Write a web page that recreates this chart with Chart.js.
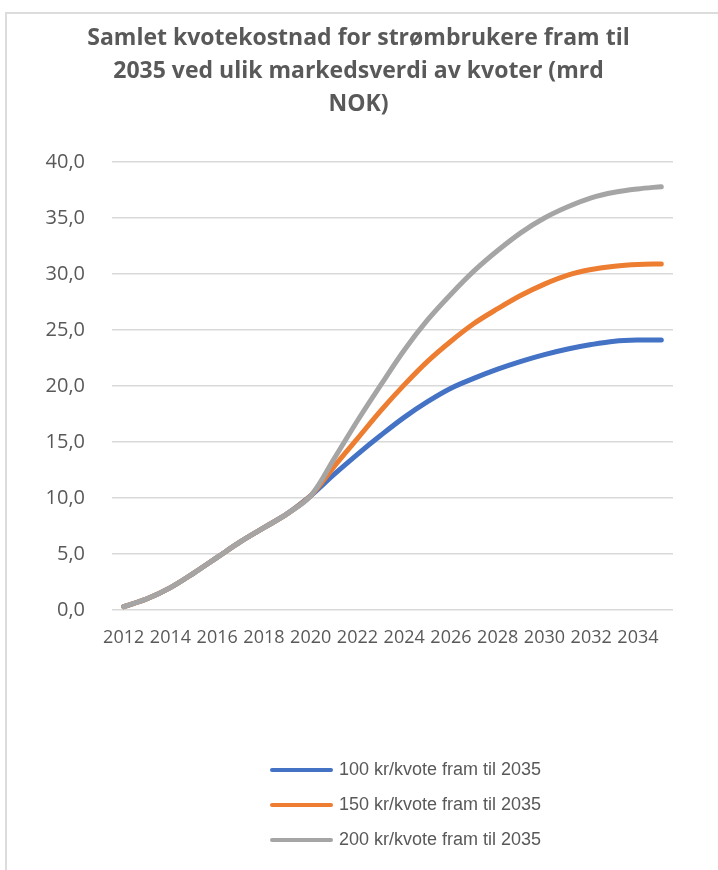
<!DOCTYPE html>
<html>
<head>
<meta charset="utf-8">
<script src="https://cdn.jsdelivr.net/npm/chart.js@4"></script>
<style>
  html, body { margin: 0; padding: 0; background: #fff; }
  #wrap { position: relative; width: 718px; height: 870px; }
  #frame { position: absolute; left: 5px; top: 12px; right: 0; bottom: 0; border-top: 2px solid #dcdcdc; border-left: 2px solid #dcdcdc; }
  #legend { position: absolute; left: 270px; top: 752px; font-family: "Liberation Sans", Arial, sans-serif; font-size: 18px; color: #595959; }
  .item { height: 35px; display: flex; align-items: center; }
  .swatch { display: inline-block; width: 63px; height: 4px; border-radius: 2px; margin-right: 6px; }
</style>
</head>
<body>
<div id="wrap">
  <div id="frame"></div>
  <canvas id="myChart" width="718" height="870"></canvas>
  <div id="legend"></div>
</div>
<script>
var years = [2012, 2013, 2014, 2015, 2016, 2017, 2018, 2019, 2020, 2021, 2022, 2023,
             2024, 2025, 2026, 2027, 2028, 2029, 2030, 2031, 2032, 2033, 2034, 2035];

// same path for all three up to 2020
var kr100 = [0.3, 1.0, 2.0, 3.3, 4.7, 6.1, 7.35, 8.6, 10.2,
             12.1, 13.9, 15.6, 17.2, 18.6, 19.8, 20.7, 21.5, 22.2, 22.8, 23.3, 23.7, 24.0, 24.1, 24.1];
var kr150 = [0.3, 1.0, 2.0, 3.3, 4.7, 6.1, 7.35, 8.6, 10.2,
             12.8, 15.3, 17.8, 20.1, 22.2, 24.0, 25.6, 26.9, 28.1, 29.1, 29.9, 30.4, 30.7, 30.85, 30.9];
var kr200 = [0.3, 1.0, 2.0, 3.3, 4.7, 6.1, 7.35, 8.6, 10.2,
             13.5, 16.9, 20.1, 23.2, 25.9, 28.2, 30.3, 32.1, 33.7, 35.0, 36.0, 36.8, 37.3, 37.6, 37.8];

var seriesNames = ["100 kr/kvote fram til 2035", "150 kr/kvote fram til 2035", "200 kr/kvote fram til 2035"];
var seriesColors = ['#4472C4', '#ED7D31', '#A5A5A5'];
var titleLines = ["Samlet kvotekostnad for strømbrukere fram til", "2035 ved ulik markedsverdi av kvoter (mrd", "NOK)"];

var grey = '#595959';

function makeSet(i, values, order) {
  return {
    label: seriesNames[i],
    data: values,
    borderColor: seriesColors[i],
    backgroundColor: seriesColors[i],
    borderWidth: 5,
    borderCapStyle: 'round',
    pointRadius: 0,
    tension: 0.35,
    order: order
  };
}

var ctx = document.getElementById('myChart').getContext('2d');
var chart = new Chart(ctx, {
  type: 'line',
  data: {
    labels: years,
    datasets: [makeSet(0, kr100, 2), makeSet(1, kr150, 1), makeSet(2, kr200, 0)]
  },
  options: {
    responsive: false,
    animation: false,
    layout: { padding: { top: 12, left: 44, right: 45, bottom: 220 } },
    plugins: {
      legend: { display: false },
      tooltip: { enabled: false },
      title: {
        display: true,
        text: titleLines,
        color: grey,
        font: { family: '"Open Sans", sans-serif', size: 23, weight: 'bold', lineHeight: 1.435 },
        padding: { top: 10, bottom: 41 }
      }
    },
    scales: {
      x: {
        offset: true,
        grid: { display: false, drawTicks: false },
        border: { display: false },
        ticks: {
          color: grey,
          font: { family: '"Open Sans", sans-serif', size: 18 },
          padding: 17,
          autoSkip: false,
          maxRotation: 0,
          callback: function(val, index) {
            return index % 2 === 0 ? this.getLabelForValue(val) : '';
          }
        },
        afterFit: function(scale) { scale.height = 40; }
      },
      y: {
        min: 0,
        max: 40,
        grid: { color: '#d9d9d9', lineWidth: 1.5, drawTicks: false },
        border: { display: false },
        ticks: {
          stepSize: 5,
          color: grey,
          padding: 27,
          font: { family: '"Open Sans", sans-serif', size: 20 },
          callback: function(val) { return val.toFixed(1).replace('.', ','); }
        },
        afterFit: function(scale) { scale.width = 68; }
      }
    }
  }
});

// legend stacked vertically under the chart
var legend = document.getElementById('legend');
for (var i = 0; i < seriesNames.length; i++) {
  var row = document.createElement('div');
  row.className = 'item';
  row.innerHTML = "<span class='swatch' style='background:" + seriesColors[i] + "'></span>" + seriesNames[i];
  legend.appendChild(row);
}
</script>
</body>
</html>
